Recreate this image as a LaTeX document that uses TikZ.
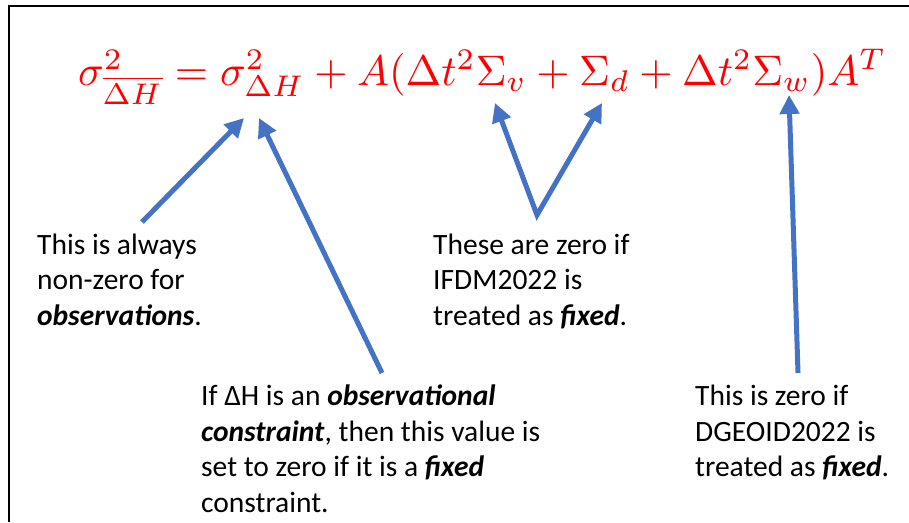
\documentclass[tikz,border=0pt]{standalone}
\usepackage{fontspec}
\usepackage{amsmath}
\usepackage{graphicx}
\setmainfont{Carlito}
\usetikzlibrary{arrows.meta}
\definecolor{arrblue}{RGB}{68,114,196}
\definecolor{eqred}{RGB}{255,0,0}
\tikzset{
  txt/.style={anchor=base west, inner sep=0pt, align=left, font=\fontsize{29.5}{35.6}\selectfont},
  arr/.style={draw=arrblue, line width=5pt, -{Triangle[length=19pt,width=19pt]}},
  frame/.style={draw=black, line width=2pt}
}
\begin{document}
\begin{tikzpicture}[x=1pt,y=-1pt]
\useasboundingbox (0,0) rectangle (909,522);
\fill[white] (0,0) rectangle (909,522);
\draw[frame] (8.8,522) -- (8.8,5.5) -- (909,5.5);
\node[anchor=base west, inner sep=0pt, text=eqred] (eq) at (78,85)
  {\resizebox{808pt}{!}{$\sigma^2_{\overline{\Delta H}} = \sigma^2_{\Delta H} + A(\Delta t^2\Sigma_v + \Sigma_d + \Delta t^2\Sigma_w)A^T$}};
% base anchor of a multi-line node = baseline of its last line
\node[txt] (t1) at (37,325.2) {This is always\\non-zero for\\\textbf{\textit{observations}}.};
\node[txt] (t2) at (433,325.2) {These are zero if\\IFDM2022 is\\treated as \textbf{\textit{fixed}}.};
\node[txt] (t3) at (201,512.3) {If ΔH is an \textbf{\textit{observational}}\\\textbf{\textit{constraint}}, then this value is\\set to zero if it is a \textbf{\textit{fixed}}\\constraint.};
\node[txt] (t4) at (695,476.7) {This is zero if\\DGEOID2022 is\\treated as \textbf{\textit{fixed}}.};
\coordinate (s1) at (142,222);
\coordinate (e1) at (244,118);
\coordinate (s2) at (382,373);
\coordinate (e2) at (259,118);
\coordinate (v) at (537,215);
\coordinate (ev) at (495,103);
\coordinate (ed) at (602,103);
\coordinate (s4) at (798,373);
\coordinate (e4) at (789,95);
\draw[arr] (s1) -- (e1);
\draw[arr] (s2) -- (e2);
\draw[arr, {Triangle[length=19pt,width=19pt]}-{Triangle[length=19pt,width=19pt]}, line join=miter] (ev) -- (v) -- (ed);
\draw[arr] (s4) -- (e4);
\end{tikzpicture}
\end{document}
